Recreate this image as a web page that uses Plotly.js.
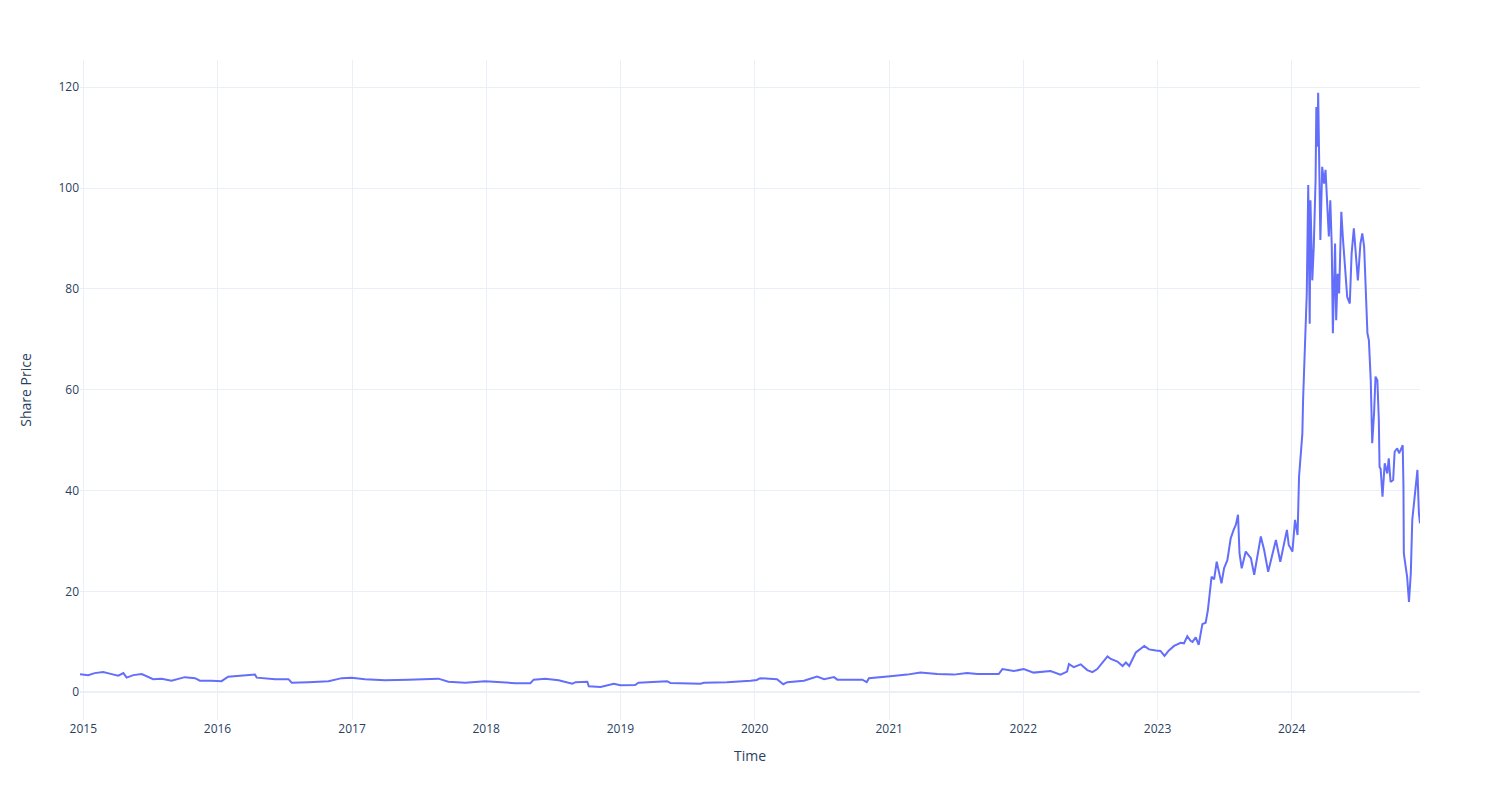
<!DOCTYPE html>
<html>
<head>
<meta charset="utf-8">
<script src="https://cdn.plot.ly/plotly-3.0.1.min.js"></script>
<style>html,body{margin:0;padding:0;background:#fff;}#chart{width:1500px;height:800px;}</style>
</head>
<body>
<div id="chart"></div>
<script>
const dates = [
"2014-12-23","2015-01-14","2015-02-01","2015-02-24","2015-03-19","2015-04-06","2015-04-20","2015-04-29","2015-05-17","2015-06-09",
"2015-07-10","2015-08-02","2015-08-29","2015-10-04","2015-11-01","2015-11-14","2015-12-16","2016-01-12","2016-01-30","2016-02-27",
"2016-04-12","2016-04-17","2016-06-06","2016-07-12","2016-07-21","2016-09-04","2016-10-29","2016-12-04","2016-12-31","2017-02-05",
"2017-04-01","2017-06-03","2017-07-19","2017-08-24","2017-09-20","2017-11-05","2017-12-29","2018-02-03","2018-03-21","2018-05-01",
"2018-05-10","2018-06-11","2018-07-17","2018-08-23","2018-09-01","2018-10-03","2018-10-07","2018-11-08","2018-12-14","2019-01-01",
"2019-02-10","2019-02-19","2019-05-08","2019-05-17","2019-08-07","2019-08-16","2019-10-18","2019-12-21","2020-01-07","2020-01-16",
"2020-03-02","2020-03-19","2020-03-30","2020-05-14","2020-06-19","2020-07-08","2020-08-04","2020-08-13","2020-10-20","2020-11-01",
"2020-11-07","2021-01-04","2021-02-19","2021-03-27","2021-05-12","2021-06-26","2021-08-01","2021-08-29","2021-10-26","2021-11-05",
"2021-12-06","2022-01-02","2022-01-29","2022-03-16","2022-04-12","2022-04-30","2022-05-05","2022-05-18","2022-06-06","2022-06-24",
"2022-07-08","2022-07-21","2022-08-18","2022-08-27","2022-09-05","2022-09-14","2022-09-28","2022-10-07","2022-10-16","2022-11-03",
"2022-11-26","2022-12-09","2022-12-28","2023-01-09","2023-01-20","2023-02-01","2023-02-15","2023-03-05","2023-03-14","2023-03-23",
"2023-04-01","2023-04-06","2023-04-15","2023-04-23","2023-05-03","2023-05-12","2023-05-18","2023-05-24","2023-05-28","2023-06-04",
"2023-06-11","2023-06-24","2023-07-01","2023-07-10","2023-07-19","2023-07-27","2023-08-02","2023-08-08","2023-08-12","2023-08-18",
"2023-08-29","2023-09-12","2023-09-21","2023-10-09","2023-10-18","2023-10-29","2023-11-05","2023-11-19","2023-12-01","2023-12-19",
"2023-12-24","2024-01-03","2024-01-10","2024-01-17","2024-01-21","2024-01-25","2024-01-30","2024-02-01","2024-02-03","2024-02-08",
"2024-02-11","2024-02-15","2024-02-19","2024-02-21","2024-02-26","2024-03-01","2024-03-06","2024-03-08","2024-03-11","2024-03-13",
"2024-03-15","2024-03-19","2024-03-24","2024-03-29","2024-04-02","2024-04-07","2024-04-11","2024-04-15","2024-04-19","2024-04-22",
"2024-04-28","2024-05-01","2024-05-05","2024-05-09","2024-05-15","2024-05-19","2024-05-25","2024-05-31","2024-06-07","2024-06-12",
"2024-06-18","2024-06-25","2024-06-29","2024-07-06","2024-07-11","2024-07-16","2024-07-20","2024-07-25","2024-07-29","2024-08-03",
"2024-08-07","2024-08-12","2024-08-16","2024-08-21","2024-08-25","2024-08-27","2024-08-30","2024-09-04","2024-09-10","2024-09-17",
"2024-09-21","2024-09-26","2024-10-03","2024-10-07","2024-10-14","2024-10-19","2024-10-23","2024-10-29","2024-10-31","2024-11-01",
"2024-11-06","2024-11-10","2024-11-15","2024-11-20","2024-11-24","2024-11-29","2024-12-03","2024-12-08","2024-12-12","2024-12-15"
];
const prices = [
3.6,3.4,3.8,4.0,3.6,3.3,3.8,2.9,3.4,3.6,
2.6,2.7,2.3,3.0,2.8,2.3,2.3,2.2,3.1,3.3,
3.5,2.9,2.6,2.6,1.9,2.0,2.2,2.8,2.9,2.6,
2.4,2.5,2.6,2.7,2.1,1.9,2.2,2.0,1.8,1.8,
2.5,2.7,2.4,1.7,2.0,2.1,1.2,1.05,1.7,1.4,
1.45,1.9,2.2,1.85,1.7,1.9,2.0,2.3,2.45,2.8,
2.6,1.6,2.0,2.3,3.1,2.6,3.0,2.5,2.5,2.0,
2.8,3.2,3.5,3.9,3.6,3.5,3.8,3.6,3.6,4.6,
4.2,4.6,3.9,4.2,3.5,4.1,5.6,5.0,5.55,4.4,
4.0,4.6,7.1,6.6,6.4,6.1,5.2,5.9,5.2,7.9,
9.2,8.5,8.3,8.2,7.2,8.3,9.2,9.8,9.7,11.1,
10.2,10.0,10.9,9.4,13.5,13.8,16.3,20.9,22.9,22.4,
25.9,21.6,24.6,26.2,30.5,32.2,33.2,35.2,27.6,24.6,
27.9,26.6,23.3,30.9,28.2,23.9,26.2,30.2,25.9,32.2,
29.2,27.9,34.2,31.2,42.8,47.4,51.3,58.0,62.6,74.5,
79.1,100.6,73.1,97.6,81.7,88.3,101.6,116.1,108.2,118.9,
104.9,89.7,104.2,100.9,103.6,95.0,90.4,97.6,88.4,71.2,
89.0,73.8,83.0,79.1,95.3,90.4,84.4,78.4,77.1,87.0,
92.0,85.7,81.7,89.0,91.0,88.4,79.8,71.2,69.8,61.9,
49.4,55.3,62.6,61.9,54.0,44.7,44.3,38.8,45.4,43.4,
46.4,41.7,42.1,47.7,48.4,47.4,48.0,49.0,40.8,27.6,
24.9,22.9,17.9,23.6,34.2,38.1,40.8,44.1,35.5,33.5
];
const yTicks = [0,20,40,60,80,100,120];

const trace = {
  x: dates, y: prices, type: 'scatter', mode: 'lines',
  line: {color: '#636efa', width: 2}, name: 'Share Price'
};
const layout = {
  width: 1500, height: 800,
  margin: {l: 80, r: 80, t: 60, b: 80},
  paper_bgcolor: '#fff', plot_bgcolor: '#fff',
  font: {family: '"Open Sans", verdana, arial, sans-serif', size: 12, color: '#2a3f5f'},
  showlegend: false,
  xaxis: {
    title: {text: 'Time', font: {size: 14}, standoff: 15},
    type: 'date', gridcolor: '#EBF0F8', linecolor: '#EBF0F8', showline: false,
    zeroline: false, ticks: '', dtick: 'M12', tickformat: '%Y'
  },
  yaxis: {
    title: {text: 'Share Price', font: {size: 14}, standoff: 23},
    range: [-5.5, 125.4], tickvals: yTicks,
    gridcolor: '#EBF0F8', zeroline: true, zerolinecolor: '#EBF0F8', zerolinewidth: 2, ticks: ''
  }
};
Plotly.newPlot('chart', [trace], layout, {displayModeBar: false});
</script>
</body>
</html>
